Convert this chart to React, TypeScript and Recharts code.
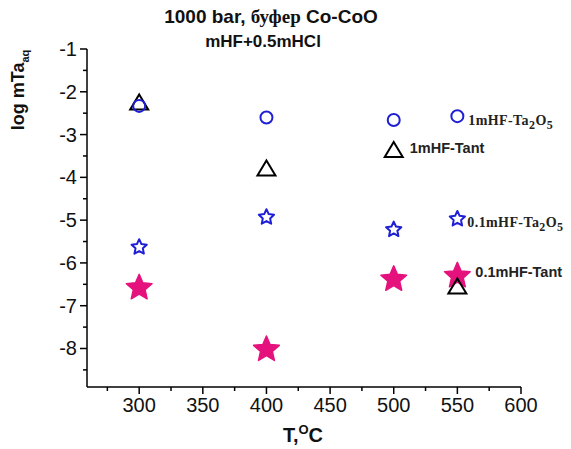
import React from 'react';
import { ScatterChart, Scatter, XAxis, YAxis } from 'recharts';

const temps = [300, 400, 500, 550];
const ta2o5_1m = [-2.33, -2.6, -2.66, -2.57];
const tant_1m = [-2.24, -3.78, -3.35, -6.54];
const ta2o5_01m = [-5.62, -4.92, -5.21, -4.96];
const tant_01m = [-6.56, -8.0, -6.36, -6.28];

const xTicks = [275, 300, 325, 350, 375, 400, 425, 450, 475, 500, 525, 550, 575, 600];
const xMajor = [300, 350, 400, 450, 500, 550, 600];
const yTicks = [-8.5, -8, -7.5, -7, -6.5, -6, -5.5, -5, -4.5, -4, -3.5, -3, -2.5, -2, -1.5, -1];
const yMajor = [-8, -7, -6, -5, -4, -3, -2, -1];

const SANS = "'Liberation Sans', Arial, sans-serif";
const SERIF = "'Liberation Serif', 'Times New Roman', serif";
const BLUE = '#1f1fd6';
const PINK = '#e5127d';

// label text sits next to one point of each series
const toRows = (vals: number[], note: string, noteAt: number) =>
    temps.map((t, i) => ({ t, v: vals[i], note: i === noteAt ? note : undefined }));

const rowsCircle = toRows(ta2o5_1m, '1mHF-Ta2O5', 3);
const rowsTri = toRows(tant_1m, '1mHF-Tant', 2);
const rowsStar = toRows(ta2o5_01m, '0.1mHF-Ta2O5', 3);
const rowsPink = toRows(tant_01m, '0.1mHF-Tant', 3);

const starPath = (cx: number, cy: number, R: number, ratio: number) => {
    let d = '';
    for (let i = 0; i < 10; i++) {
        const r = i % 2 === 0 ? R : R * ratio;
        const a = (-90 + i * 36) * Math.PI / 180;
        d += (i === 0 ? 'M' : 'L') + (cx + r * Math.cos(a)).toFixed(2) + ',' + (cy + r * Math.sin(a)).toFixed(2);
    }
    return d + 'Z';
};

const SerifNote = ({ x, y, text }: { x: number, y: number, text: string }) => {
    // "...Ta2O5" with subscripts
    const base = text.replace('Ta2O5', 'Ta');
    return (
        <text x={x} y={y} fontFamily={SERIF} fontWeight="bold" fontSize={14} letterSpacing={0.4} fill="#222">
            {base}
            <tspan dy={4} fontSize={12}>2</tspan>
            <tspan dy={-4}>O</tspan>
            <tspan dy={4} fontSize={12}>5</tspan>
        </text>
    );
};

const SansNote = ({ x, y, text }: { x: number, y: number, text: string }) => (
    <text x={x} y={y} fontFamily={SANS} fontWeight="bold" fontSize={14.5} fill="#222">{text}</text>
);

const CircleShape = (p: any) => (
    <g>
        <circle cx={p.cx} cy={p.cy} r={6} fill="none" stroke={BLUE} strokeWidth={2} />
        {p.payload?.note && <SerifNote x={p.cx + 11} y={p.cy + 9} text={p.payload.note} />}
    </g>
);

const TriShape = (p: any) => {
    const w = 18, h = 15;
    return (
        <g>
            <path d={`M${p.cx},${p.cy - h / 2}L${p.cx + w / 2},${p.cy + h / 2}L${p.cx - w / 2},${p.cy + h / 2}Z`}
                fill="none" stroke="#000" strokeWidth={2} strokeLinejoin="miter" />
            {p.payload?.note && <SansNote x={p.cx + 16} y={p.cy + 3} text={p.payload.note} />}
        </g>
    );
};

const StarShape = (p: any) => (
    <g>
        <path d={starPath(p.cx, p.cy + 0.5, 8, 0.48)} fill="none" stroke={BLUE} strokeWidth={2} strokeLinejoin="round" />
        {p.payload?.note && <SerifNote x={p.cx + 10} y={p.cy + 9} text={p.payload.note} />}
    </g>
);

const PinkShape = (p: any) => (
    <g>
        <path d={starPath(p.cx, p.cy + 1, 13.5, 0.46)} fill={PINK} stroke={PINK} strokeWidth={1.5} strokeLinejoin="round" />
        {p.payload?.note && <SansNote x={p.cx + 18} y={p.cy + 2} text={p.payload.note} />}
    </g>
);

const XTick = ({ x, y, payload }: any) => {
    const major = xMajor.includes(payload.value);
    return (
        <g>
            <line x1={x} x2={x} y1={y} y2={y + (major ? 7 : 4)} stroke="#000" strokeWidth={1.5} />
            {major && <text x={x} y={y + 25} textAnchor="middle" fontFamily={SANS} fontSize={20} fill="#111">{payload.value}</text>}
        </g>
    );
};

const YTick = ({ x, y, payload }: any) => {
    const major = yMajor.includes(payload.value);
    return (
        <g>
            <line x1={x} x2={x - (major ? 7 : 4)} y1={y} y2={y} stroke="#000" strokeWidth={1.5} />
            {major && <text x={x - 10} y={y} dy="0.35em" textAnchor="end" fontFamily={SANS} fontSize={20} fill="#111">{payload.value}</text>}
        </g>
    );
};

const App: React.FC = () => {
    return (
        <div style={{ position: 'absolute', left: 0, top: 0, width: 571, height: 449, background: '#fff' }}>
            <ScatterChart width={571} height={449} margin={{ top: 49, right: 50, bottom: 0, left: 0 }}>
                <XAxis type="number" dataKey="t" domain={[259, 600]} ticks={xTicks} interval={0}
                    height={62} tickSize={0} tickMargin={0} tickLine={false} tick={<XTick />}
                    axisLine={{ stroke: '#000', strokeWidth: 1.5 }} />
                <YAxis type="number" dataKey="v" domain={[-8.9, -1]} ticks={yTicks} interval={0}
                    width={87} tickSize={0} tickMargin={0} tickLine={false} tick={<YTick />}
                    axisLine={{ stroke: '#000', strokeWidth: 1.5 }} />
                <Scatter data={rowsStar} shape={StarShape} isAnimationActive={false} />
                <Scatter data={rowsPink} shape={PinkShape} isAnimationActive={false} />
                <Scatter data={rowsTri} shape={TriShape} isAnimationActive={false} />
                <Scatter data={rowsCircle} shape={CircleShape} isAnimationActive={false} />
            </ScatterChart>
            <svg width={571} height={449} style={{ position: 'absolute', left: 0, top: 0, pointerEvents: 'none' }}>
                <text x={271} y={23} textAnchor="middle" fontFamily={SANS} fontWeight="bold" fontSize={19} fill="#111">
                    1000 bar, <tspan fontFamily={SERIF}>буфер</tspan> Co-CoO
                </text>
                <text x={263} y={47} textAnchor="middle" fontFamily={SANS} fontWeight="bold" fontSize={17} fill="#111">
                    mHF+0.5mHCl
                </text>
                <text transform="translate(24,90) rotate(-90)" textAnchor="middle" fontFamily={SANS} fontWeight="bold" fontSize={18} fill="#111">
                    log mTa<tspan dy={5} fontSize={11}>aq</tspan>
                </text>
                <text x={303} y={442} textAnchor="middle" fontFamily={SANS} fontWeight="bold" fontSize={20} fill="#111">
                    T,<tspan dy={-8} fontSize={13}>O</tspan><tspan dy={8}>C</tspan>
                </text>
            </svg>
        </div>
    );
};

export default App;
